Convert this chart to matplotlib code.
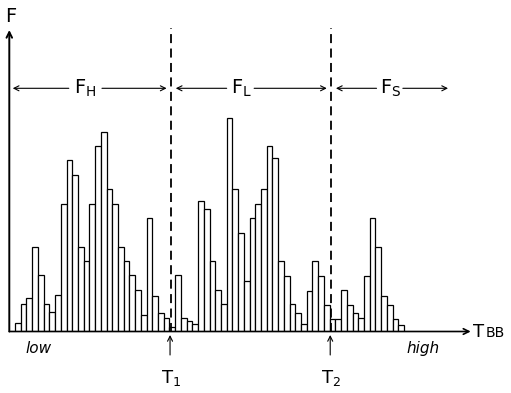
import numpy as np
import matplotlib.pyplot as plt

# histogram of F against T_BB (arbitrary units)
f_high = [9, 28, 34, 85, 57, 28, 20, 37, 128, 172, 157, 85, 71, 128,
          186, 200, 143, 128, 85, 71, 57, 42, 17, 114, 36, 19, 14]
f_low = [5, 57, 14, 11, 8, 131, 123, 71, 42, 28, 214, 143, 99, 51,
         114, 128, 143, 186, 174, 71, 56, 28, 19, 8, 41, 71, 56, 27]
f_s = [13, 13, 42, 27, 19, 14, 56, 114, 85, 36, 27, 13, 7]

t1 = 28.2
t2 = 56.2

heights = f_high + f_low + f_s
slots = np.arange(1, 1 + len(heights))

fig = plt.figure(figsize=(5.11, 3.93), dpi=100)
ax = fig.add_axes([9.3 / 511, 61.5 / 393, 461.4 / 511, 301.5 / 393])
ax.bar(slots, heights, width=1, align='edge', color='white',
       edgecolor='black', linewidth=0.9)
ax.set_xlim(0, 80.66)
ax.set_ylim(0, 301.5)
ax.axis('off')

# axes drawn as arrows
ax.annotate('', xy=(0, 1), xytext=(0, 0), xycoords='axes fraction',
            arrowprops=dict(arrowstyle='->', lw=1.4, color='black',
                            shrinkA=0, shrinkB=0))
ax.annotate('', xy=(1, 0), xytext=(0, 0), xycoords='axes fraction',
            arrowprops=dict(arrowstyle='->', lw=1.2, color='black',
                            shrinkA=0, shrinkB=0))

# thresholds
for t in (t1, t2):
    ax.plot([t, t], [0, 304], color='black', lw=1.3, ls=(0, (5, 3)),
            clip_on=False)

# region arrows
arr = dict(arrowstyle='->', lw=0.8, color='black', shrinkA=0, shrinkB=0,
           mutation_scale=9)
ya = 243.2
regions = [(r'$\mathregular{F_H}$', 0.6, 10.4, 13.2, 16.2, 27.5),
           (r'$\mathregular{F_L}$', 29.1, 38.0, 40.5, 42.8, 55.5),
           (r'$\mathregular{F_S}$', 57.1, 64.2, 66.7, 68.8, 76.7)]
for lab, a0, a1, xc, b0, b1 in regions:
    ax.annotate('', xy=(a0, ya), xytext=(a1, ya), arrowprops=arr)
    ax.annotate('', xy=(b1, ya), xytext=(b0, ya), arrowprops=arr)
    ax.text(xc, ya, lab, fontsize=14, ha='center', va='center')

ax.text(0.3, 324, 'F', fontsize=14, ha='center', va='top')
ax.text(81.0, -5.2, 'T', fontsize=13, ha='left', va='baseline')
ax.text(83.3, -5.2, 'BB', fontsize=10, ha='left', va='baseline')

ax.text(2.75, -21.5, 'low', fontsize=11, style='italic', va='baseline')
ax.text(69.5, -21.5, 'high', fontsize=11, style='italic', va='baseline')

for t, lab in ((t1, r'$\mathregular{T_1}$'), (t2, r'$\mathregular{T_2}$')):
    ax.annotate('', xy=(t - 0.1, -3.5), xytext=(t - 0.1, -23.5),
                arrowprops=arr, annotation_clip=False)
    ax.text(t, -37, lab, fontsize=13, ha='center', va='top')

fig.savefig('out.png', dpi=100)
